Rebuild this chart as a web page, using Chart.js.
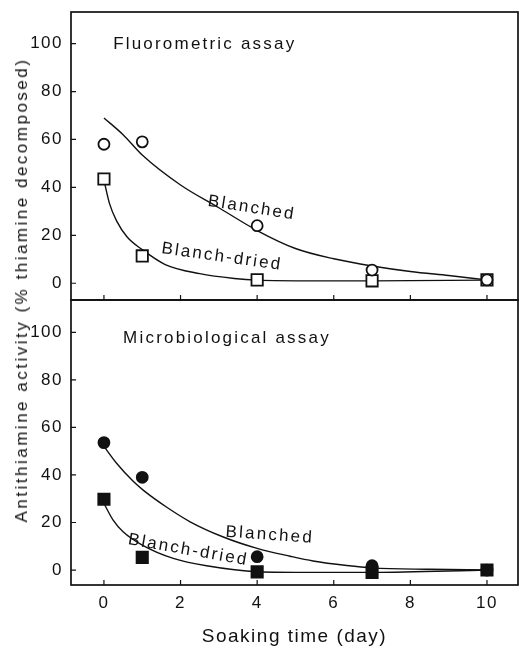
<!DOCTYPE html>
<html>
<head>
<meta charset="utf-8">
<script src="https://cdn.jsdelivr.net/npm/chart.js@4"></script>
<style>
    html, body { margin: 0; padding: 0; background: #fff; }
    #wrap { position: relative; width: 529px; height: 649px; overflow: hidden; }
    canvas { position: absolute; left: 0; }
    #topChart { top: 0; }
    #bottomChart { top: 290px; }
    #yTitle {
        position: absolute; left: 22px; top: 290px;
        transform: translate(-50%, -50%) rotate(-90deg);
        white-space: nowrap; color: #111;
        font: 17px "Liberation Sans", Arial, sans-serif;
        letter-spacing: 2.5px;
    }
</style>
</head>
<body>
<div id="wrap">
    <canvas id="topChart" width="529" height="310"></canvas>
    <canvas id="bottomChart" width="529" height="359"></canvas>
    <div id="yTitle">Antithiamine activity (% thiamine decomposed)</div>
</div>
<script>
// 量測點（浸泡天數）
const days = [0, 1, 4, 7, 10];
const fluoroBlanched = [58, 59, 24, 5.5, 1.4];
const fluoroDried = [43.5, 11.4, 1.4, 1, 1.4];
const microBlanched = [53.6, 39, 5.6, 1.8, 0];
const microDried = [29.8, 5.3, -0.8, -1, 0];

// 擬合曲線（沿原圖曲線讀點）
const fluoroBlanchedCurveX = [0, 0.5, 1, 2, 3, 4, 5, 6, 7, 8, 9, 10];
const fluoroBlanchedCurveY = [69, 62, 53.5, 41, 31.5, 22, 14.5, 10.2, 7.2, 4.9, 3.2, 1.4];
const fluoroDriedCurveX = [0, 0.15, 0.33, 0.6, 1, 1.6, 2.5, 3.4, 4, 5.5, 7, 10];
const fluoroDriedCurveY = [43, 33, 26, 19.4, 14, 7.8, 4, 2, 1.3, 1, 1, 1.3];
const microBlanchedCurveX = [0, 0.33, 0.77, 1.04, 1.64, 2.25, 3.1, 4, 4.86, 5.46, 6.34, 7, 8.5, 10];
const microBlanchedCurveY = [52, 44.9, 37.2, 33.4, 26.4, 20.3, 14, 9.1, 5.8, 3.8, 1.9, 0.9, 0.3, 0];
const microDriedCurveX = [0, 0.24, 0.5, 1, 1.81, 2.68, 4, 5.5, 7, 10];
const microDriedCurveY = [28, 21, 16.1, 10.5, 4.9, 1.8, -0.7, -1, -1, 0];

// 刻度
const xTicks = [0, 2, 4, 6, 8, 10];
const yTicks = [0, 20, 40, 60, 80, 100];

const INK = '#111';
const FONT = '"Liberation Sans", Arial, sans-serif';

function toXY(xs, ys) {
    return xs.map((x, i) => ({ x: x, y: ys[i] }));
}

function markerSet(ys, style, filled) {
    return {
        data: toXY(days, ys),
        showLine: false,
        pointStyle: style,
        pointRadius: style === 'rect' ? 8 : 5.5,
        pointHoverRadius: style === 'rect' ? 8 : 5.5,
        pointBorderWidth: 1.8,
        pointBorderColor: INK,
        pointBackgroundColor: filled ? INK : '#fff',
        order: 0
    };
}

function curveSet(xs, ys) {
    return {
        data: toXY(xs, ys),
        borderColor: INK,
        borderWidth: 1.4,
        pointRadius: 0,
        cubicInterpolationMode: 'monotone',
        fill: false,
        order: 1
    };
}

// 外框與朝內的刻度線
const framePlugin = {
    id: 'frame',
    beforeDraw(chart) {
        chart.ctx.letterSpacing = '1.5px';
    },
    afterDraw(chart) {
        const { ctx, chartArea: a, scales } = chart;
        ctx.save();
        ctx.strokeStyle = INK;
        ctx.lineWidth = 1.7;
        ctx.strokeRect(a.left, a.top, a.right - a.left, a.bottom - a.top);
        ctx.lineWidth = 1.2;
        ctx.beginPath();
        scales.x.ticks.forEach(t => {
            const px = scales.x.getPixelForValue(t.value);
            ctx.moveTo(px, a.bottom);
            ctx.lineTo(px, a.bottom - 5);
        });
        scales.y.ticks.forEach(t => {
            const py = scales.y.getPixelForValue(t.value);
            ctx.moveTo(a.left, py);
            ctx.lineTo(a.left + 5, py);
        });
        ctx.stroke();
        ctx.restore();
    }
};

// 圖內文字標註
const notesPlugin = {
    id: 'notes',
    afterDatasetsDraw(chart, args, opts) {
        const { ctx, scales } = chart;
        (opts.items || []).forEach(n => {
            ctx.save();
            ctx.translate(scales.x.getPixelForValue(n.x), scales.y.getPixelForValue(n.y));
            ctx.rotate((n.rotate || 0) * Math.PI / 180);
            ctx.font = '17px ' + FONT;
            ctx.letterSpacing = '2.2px';
            ctx.fillStyle = INK;
            ctx.textAlign = n.align || 'center';
            ctx.textBaseline = 'middle';
            ctx.fillText(n.text, 0, 0);
            ctx.restore();
        });
    }
};

function makeOptions(yMin, yMax, padTop, xHeight, showX, notes) {
    return {
        responsive: false,
        animation: false,
        layout: { padding: { top: padTop, left: 0, right: 11, bottom: 0 } },
        plugins: {
            legend: { display: false },
            tooltip: { enabled: false },
            notes: { items: notes }
        },
        scales: {
            x: {
                type: 'linear',
                min: -0.86,
                max: 10.81,
                afterBuildTicks: s => { s.ticks = xTicks.map(v => ({ value: v })); },
                afterFit: s => {
                    s.height = xHeight;
                    s.paddingLeft = 0;
                    s.paddingRight = 0;
                },
                grid: { display: false, drawTicks: false },
                border: { display: false },
                ticks: {
                    display: showX,
                    padding: 8,
                    color: INK,
                    font: { family: FONT, size: 17 }
                },
                title: {
                    display: showX,
                    text: 'Soaking time (day)',
                    color: INK,
                    padding: { top: 0, bottom: 1 },
                    font: { family: FONT, size: 19 }
                }
            },
            y: {
                min: yMin,
                max: yMax,
                afterBuildTicks: s => { s.ticks = yTicks.map(v => ({ value: v })); },
                afterFit: s => {
                    s.width = 71;
                    s.paddingTop = 0;
                    s.paddingBottom = 0;
                },
                grid: { display: false, drawTicks: false },
                border: { display: false },
                ticks: {
                    padding: 8,
                    color: INK,
                    font: { family: FONT, size: 17 }
                }
            }
        }
    };
}

new Chart(document.getElementById('topChart'), {
    type: 'line',
    data: {
        datasets: [
            markerSet(fluoroBlanched, 'circle', false),
            markerSet(fluoroDried, 'rect', false),
            curveSet(fluoroBlanchedCurveX, fluoroBlanchedCurveY),
            curveSet(fluoroDriedCurveX, fluoroDriedCurveY)
        ]
    },
    options: makeOptions(-7, 113.2, 12, 10, false, [
        { text: 'Fluorometric assay', x: 0.24, y: 99.8, align: 'left' },
        { text: 'Blanched', x: 3.86, y: 31.4, rotate: 9 },
        { text: 'Blanch-dried', x: 3.08, y: 11, rotate: 8 }
    ]),
    plugins: [framePlugin, notesPlugin]
});

new Chart(document.getElementById('bottomChart'), {
    type: 'line',
    data: {
        datasets: [
            markerSet(microBlanched, 'circle', true),
            markerSet(microDried, 'rect', true),
            curveSet(microBlanchedCurveX, microBlanchedCurveY),
            curveSet(microDriedCurveX, microDriedCurveY)
        ]
    },
    options: makeOptions(-6.3, 113.6, 10, 64, true, [
        { text: 'Microbiological assay', x: 0.5, y: 97.6, align: 'left' },
        { text: 'Blanched', x: 4.33, y: 14.7, rotate: 4 },
        { text: 'Blanch-dried', x: 2.2, y: 8.4, rotate: 10 }
    ]),
    plugins: [framePlugin, notesPlugin]
});
</script>
</body>
</html>
